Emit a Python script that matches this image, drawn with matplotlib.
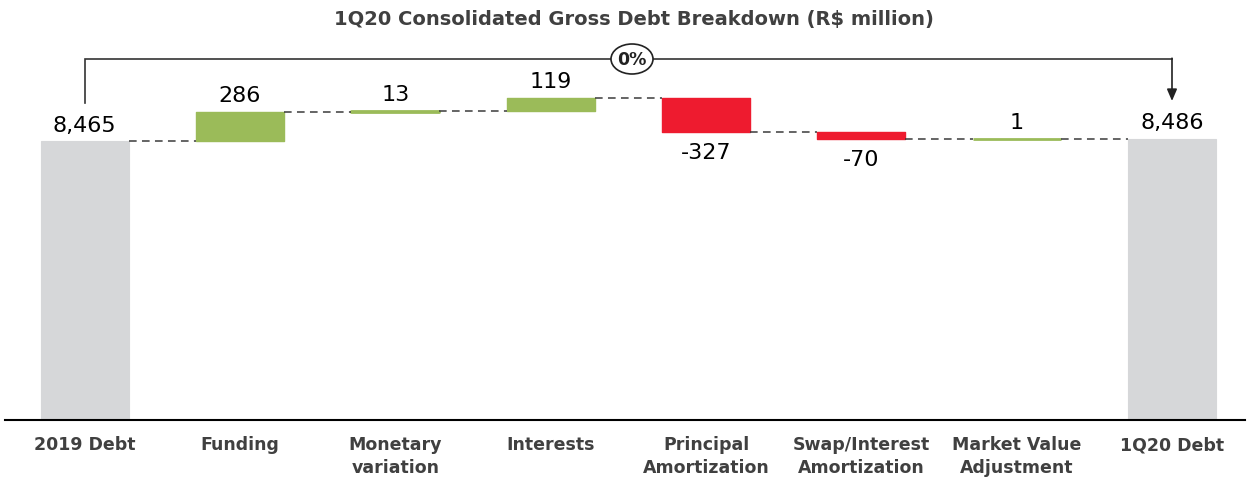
import matplotlib
matplotlib.use("Agg")
import matplotlib.pyplot as plt
import matplotlib.transforms as mtransforms
from matplotlib.patches import Ellipse

categories = ["2019 Debt", "Funding", "Monetary\nvariation", "Interests",
              "Principal\nAmortization", "Swap/Interest\nAmortization",
              "Market Value\nAdjustment", "1Q20 Debt"]
start_value = 8465
deltas = [286, 13, 119, -327, -70, 1]
end_value = 8486
labels = ["8,465", "286", "13", "119", "-327", "-70", "1", "8,486"]
change_label = "0%"
title = "1Q20 Consolidated Gross Debt Breakdown (R$ million)"

GREEN = "#9BBB59"
RED = "#EE1B2F"
GREY = "#D6D7D9"
TXT = "#404040"

W, H = 1250, 481
YMIN, YMAX = 5774, 9455
fig = plt.figure(figsize=(W / 100, H / 100), dpi=100)
ax = fig.add_axes([5 / W, 60 / H, 1240 / W, 381 / H])
ax.set_xlim(-0.513, 7.47)
ax.set_ylim(YMIN, YMAX)

bw = 0.565
n = len(categories)

# totals
ax.bar(0, start_value - YMIN, bottom=YMIN, width=bw, color=GREY, edgecolor=GREY, linewidth=0.8)
ax.bar(n - 1, end_value - YMIN, bottom=YMIN, width=bw, color=GREY, edgecolor=GREY, linewidth=0.8)

level = start_value
levels = [start_value]
for i, d in enumerate(deltas, start=1):
    c = GREEN if d >= 0 else RED
    lw = 2.0 if abs(d) < 30 else 1.0
    ax.bar(i, d, bottom=level, width=bw, color=c, edgecolor=c, linewidth=lw, joinstyle="round")
    level += d
    levels.append(level)

# connectors
for i in range(n - 1):
    y = levels[i]
    ax.plot([i + bw / 2, i + 1 - bw / 2], [y, y], color="#3a3a3a", lw=1.1,
            linestyle=(0, (5, 3.5)), zorder=1)

# value labels
fs = 16
ax.annotate(labels[0], (0, start_value), xytext=(0, 5), textcoords="offset points",
            ha="center", va="bottom", fontsize=fs, color="black")
ax.annotate(labels[-1], (n - 1, end_value), xytext=(0, 5), textcoords="offset points",
            ha="center", va="bottom", fontsize=fs, color="black")
lvl = start_value
for i, d in enumerate(deltas, start=1):
    if d >= 0:
        ax.annotate(labels[i], (i, lvl + d), xytext=(0, 5), textcoords="offset points",
                    ha="center", va="bottom", fontsize=fs, color="black")
    else:
        ax.annotate(labels[i], (i, lvl + d), xytext=(0, -7), textcoords="offset points",
                    ha="center", va="top", fontsize=fs, color="black")
    lvl += d

# bracket
trans = mtransforms.blended_transform_factory(ax.transData, ax.transAxes)
ytop = (421 - 60) / 381
yl = (421 - 104) / 381
yr = (421 - 102) / 381
ax.plot([0, 0, n - 1, n - 1], [yl, ytop, ytop, ytop], color="#333333", lw=1.2,
        transform=trans, clip_on=False, solid_joinstyle="miter")
ax.annotate("", xy=(n - 1, yr), xytext=(n - 1, ytop + 0.002), xycoords=trans, textcoords=trans,
            arrowprops=dict(arrowstyle="-|>,head_length=0.7,head_width=0.3", color="#222222",
                            lw=1.2, shrinkA=0, shrinkB=0))
xc = (632 - 5) / 1240 * (7.47 + 0.513) - 0.513
ell = Ellipse((xc, ytop), width=42 / 1240 * (7.47 + 0.513), height=30 / 381,
              transform=trans, facecolor="white", edgecolor="#222222", lw=1.2,
              zorder=5, clip_on=False)
ax.add_patch(ell)
ax.text(xc, ytop, change_label, transform=trans, ha="center", va="center",
        fontsize=12.5, fontweight="bold", color="#222222", zorder=6)

# axes styling
for s in ["top", "right", "left"]:
    ax.spines[s].set_visible(False)
ax.spines["bottom"].set_color("black")
ax.spines["bottom"].set_linewidth(1.5)
ax.set_yticks([])
ax.set_xticks(range(n))
ax.set_xticklabels(categories, fontsize=12.5, fontweight="bold", color=TXT,
                   linespacing=1.35)
ax.tick_params(axis="x", length=0, pad=11)
for t in ax.get_xticklabels():
    t.set_verticalalignment("top")

fig.text(634 / W, 1 - 20 / H, title, ha="center", va="center", fontsize=14,
         fontweight="bold", color=TXT)

fig.savefig("out.png", dpi=100)
